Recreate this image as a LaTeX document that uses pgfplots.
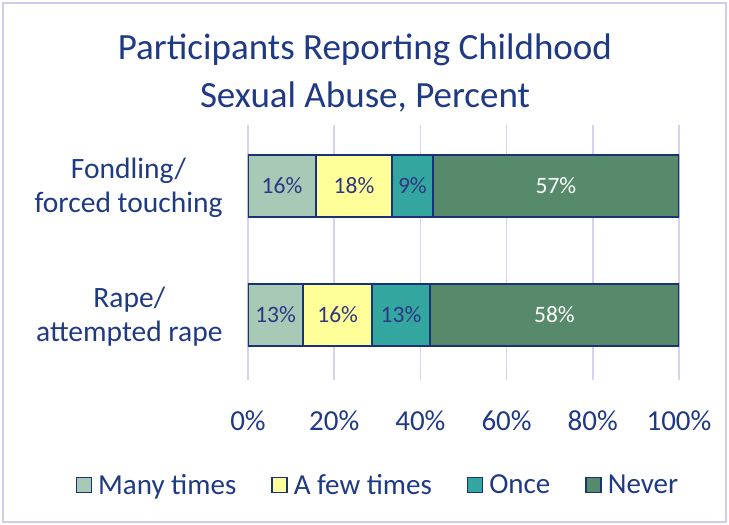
\documentclass[border=0pt]{standalone}
\usepackage{pgfplots}
\pgfplotsset{compat=1.18}
\usepackage{pgfplotstable}
\usepackage{fontspec}
\setmainfont{Carlito}
\definecolor{txt}{HTML}{1F3A85}
\definecolor{lbl}{HTML}{2E3683}
\definecolor{many}{HTML}{A9C9B7}
\definecolor{few}{HTML}{FFFF99}
\definecolor{once}{HTML}{33A79F}
\definecolor{never}{HTML}{568A6A}
\definecolor{edge}{HTML}{1A3278}
\definecolor{gridc}{HTML}{D8D2F0}
\definecolor{framec}{HTML}{D0CCEC}

\pgfplotstableread{
cat many few once never
0 15.8 17.6 9.5 57.1
1 12.8 16.0 13.4 57.8
}\data
\pgfplotstableread{
x y lab
7.9 0 16
24.6 0 18
38.15 0 9
6.4 1 13
20.8 1 16
35.5 1 13
}\labA
\pgfplotstableread{
x y lab
71.45 0 57
71.1 1 58
}\labB

\pgfplotsset{myax/.style={
  scale only axis, width=431pt, height=255pt,
  xmin=0, xmax=100, ymin=-0.473, ymax=1.504, y dir=reverse,
  at={(248pt,-125pt)}, anchor=north west,
}}

\begin{document}
\begin{tikzpicture}
\useasboundingbox (0,0) rectangle (729pt,-525pt);
\draw[framec, line width=2pt] (3pt,-3pt) rectangle (726pt,-522pt);
\node[text=txt, align=center, font=\fontsize{37}{48}\selectfont] at (365pt,-73pt) {Participants Reporting Childhood\\Sexual Abuse, Percent};
\begin{axis}[myax,
  xbar stacked, bar width=62pt,
  axis line style={draw=none}, tick style={draw=none},
  xmajorgrids, major grid style={gridc, line width=1.5pt},
  xtick={0,20,...,100},
  /pgf/number format/assume math mode=true,
  xticklabel={\pgfmathprintnumber{\tick}\%},
  xticklabel style={text=txt, font=\fontsize{29}{30}\selectfont, yshift=-27pt},
  ytick={0,1},
  yticklabels={{Fondling/\\forced touching},{Rape/\\attempted rape}},
  yticklabel style={text=txt, align=center, font=\fontsize{29.5}{34}\selectfont, xshift=-22pt, yshift=-2pt},
  legend columns=4,
  legend style={at={(0.3016,-0.412)}, anchor=center, draw=none, fill=none,
    font=\fontsize{29}{30}\selectfont, text=txt,
    /tikz/every odd column/.style={column sep=4pt},
    /tikz/every even column/.style={column sep=33pt}},
  legend image code/.code={\draw[#1, line width=1.4pt] (0pt,-7.5pt) rectangle (15pt,7.5pt);},
]
\addplot[fill=many, draw=edge, line width=1.8pt] table[x=many, y=cat] {\data};
\addplot[fill=few, draw=edge, line width=1.8pt] table[x=few, y=cat] {\data};
\addplot[fill=once, draw=edge, line width=1.8pt] table[x=once, y=cat] {\data};
\addplot[fill=never, draw=edge, line width=1.8pt] table[x=never, y=cat] {\data};
\legend{Many times, A few times, Once, Never}
\end{axis}
\begin{axis}[myax, hide axis]
\addplot[draw=none, mark=none, nodes near coords={\pgfplotspointmeta\%}, point meta=explicit symbolic,
  every node near coord/.style={anchor=center, text=lbl, font=\fontsize{23.5}{24}\selectfont}]
  table[x=x, y=y, meta=lab] {\labA};
\addplot[draw=none, mark=none, nodes near coords={\pgfplotspointmeta\%}, point meta=explicit symbolic,
  every node near coord/.style={anchor=center, text=white, font=\fontsize{23.5}{24}\selectfont}]
  table[x=x, y=y, meta=lab] {\labB};
\end{axis}
\end{tikzpicture}
\end{document}
